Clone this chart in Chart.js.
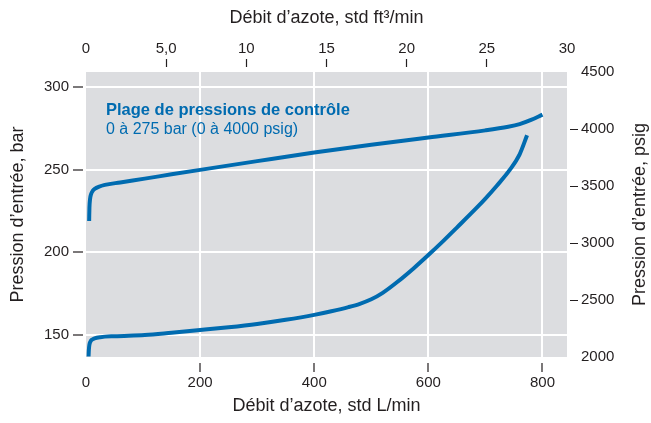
<!DOCTYPE html>
<html>
<head>
<meta charset="utf-8">
<script src="https://cdn.jsdelivr.net/npm/chart.js@4.4.0/dist/chart.umd.min.js"></script>
<style>
  html, body { margin: 0; padding: 0; background: #fff; }
</style>
</head>
<body>
<canvas id="flowChart" width="651" height="423"></canvas>
<script>
// upper curve: flow (std L/min) vs inlet pressure (bar)
const upperFlow = [5.5, 6, 7, 9, 12, 16, 22, 33, 60, 103, 150, 200, 300, 400, 500, 600, 700, 740, 760, 780, 800];
const upperBar  = [219, 227, 232, 235.3, 237.3, 238.6, 239.6, 240.8, 242.3, 244.6, 247.2, 249.9, 255.2, 260.4, 265.1, 269.5, 273.8, 276, 277.6, 280.1, 283.3];

// lower curve
const lowerFlow = [4.5, 5, 6, 8, 11, 15, 25, 50, 103, 150, 200, 250, 300, 350, 400, 430, 460, 480, 500, 520, 546, 575, 600, 625, 650, 684, 700, 720, 743, 760, 773];
const lowerBar  = [137, 141, 144.2, 146.2, 147.3, 148, 148.7, 149.3, 150, 151.4, 153, 154.7, 156.7, 159.2, 162.2, 164.4, 166.9, 168.9, 171.6, 175.5, 182.2, 190.6, 198.4, 206.5, 215, 226.7, 232.5, 240.3, 250, 259.3, 270.8];

const flowTicks = [0, 200, 400, 600, 800];
const cfmTicks = [0, 5, 10, 15, 20, 25, 30];
const barTicks = [150, 200, 250, 300];
const psigTicks = [2000, 2500, 3000, 3500, 4000, 4500];

const BLUE = '#006bb0';
const INK = '#231f20';
const FONT = "'Liberation Sans', Arial, Helvetica, sans-serif";

Chart.defaults.font.family = FONT;
Chart.defaults.color = INK;

function pts(xs, ys) {
  return xs.map((x, i) => ({ x: x, y: ys[i] }));
}

const plotBg = {
  id: 'plotBg',
  beforeDraw(chart) {
    const a = chart.chartArea;
    const c = chart.ctx;
    c.save();
    c.fillStyle = '#dcdde0';
    c.fillRect(a.left, a.top, a.right - a.left, a.bottom - a.top);
    c.restore();
  },
  afterDraw(chart) {
    const a = chart.chartArea;
    const c = chart.ctx;
    const xs = chart.scales.x;
    const ys = chart.scales.y;
    c.save();
    // note in the plot
    c.fillStyle = BLUE;
    c.textAlign = 'left';
    c.textBaseline = 'alphabetic';
    c.font = "bold 16.5px " + FONT;
    c.fillText('Plage de pressions de contrôle', xs.getPixelForValue(35), ys.getPixelForValue(283.3));
    c.font = "16px " + FONT;
    c.fillText('0 à 275 bar (0 à 4000 psig)', xs.getPixelForValue(35), ys.getPixelForValue(271.5));
    // right axis title, reads bottom to top
    c.fillStyle = INK;
    c.font = "18px " + FONT;
    c.textAlign = 'center';
    c.textBaseline = 'middle';
    c.translate(640, (a.top + a.bottom) / 2);
    c.rotate(-Math.PI / 2);
    c.fillText('Pression d’entrée, psig', 0, 0);
    c.restore();
  }
};

function setTicks(list) {
  return (scale) => { scale.ticks = list.map(v => ({ value: v })); };
}

const tickFont = { size: 15 };
const titleFont = { size: 18 };

const ctx = document.getElementById('flowChart').getContext('2d');
new Chart(ctx, {
  type: 'line',
  data: {
    datasets: [
      {
        data: pts(upperFlow, upperBar),
        borderColor: BLUE,
        borderWidth: 4,
        pointRadius: 0,
        fill: false,
        cubicInterpolationMode: 'monotone',
        xAxisID: 'x',
        yAxisID: 'y'
      },
      {
        data: pts(lowerFlow, lowerBar),
        borderColor: BLUE,
        borderWidth: 4,
        pointRadius: 0,
        fill: false,
        cubicInterpolationMode: 'monotone',
        xAxisID: 'x',
        yAxisID: 'y'
      }
    ]
  },
  options: {
    responsive: false,
    devicePixelRatio: 1,
    animation: false,
    layout: { padding: 0 },
    plugins: {
      legend: { display: false },
      tooltip: { enabled: false }
    },
    scales: {
      x: {
        type: 'linear',
        position: 'bottom',
        min: 0,
        max: 843,
        afterBuildTicks: setTicks(flowTicks),
        afterFit: (s) => { s.height = 66; },
        border: { display: false },
        grid: {
          color: (c) => (c.tick && c.tick.value === 0) ? 'rgba(0,0,0,0)' : '#ffffff',
          lineWidth: 2,
          tickLength: 15,
          tickWidth: 1.2,
          tickBorderDash: [0, 6, 9, 40],
          tickColor: (c) => (c.tick && c.tick.value === 0) ? 'rgba(0,0,0,0)' : INK
        },
        ticks: { font: tickFont, padding: 2, autoSkip: false, maxRotation: 0 },
        title: { display: true, text: 'Débit d’azote, std L/min', font: titleFont, padding: { top: 0, bottom: 6 } }
      },
      x2: {
        type: 'linear',
        position: 'top',
        min: 0,
        max: 30,
        afterBuildTicks: setTicks(cfmTicks),
        afterFit: (s) => { s.height = 72; },
        border: { display: false },
        grid: {
          drawOnChartArea: false,
          tickLength: 13,
          tickWidth: 1.2,
          tickBorderDash: [8, 40],
          tickColor: (c) => (c.tick && (c.tick.value === 0 || c.tick.value === 30)) ? 'rgba(0,0,0,0)' : INK
        },
        ticks: {
          font: tickFont, padding: 1, autoSkip: false, maxRotation: 0,
          callback: (v) => v === 5 ? '5,0' : String(v)
        },
        title: { display: true, text: 'Débit d’azote, std ft³/min', font: titleFont, padding: { top: 7, bottom: 0 } }
      },
      y: {
        type: 'linear',
        position: 'left',
        min: 136.7,
        max: 309.1,
        afterBuildTicks: setTicks(barTicks),
        afterFit: (s) => { s.width = 86; },
        border: { display: false },
        grid: {
          color: '#ffffff',
          lineWidth: 2,
          tickLength: 13,
          tickWidth: 1.2,
          tickBorderDash: [10, 40],
          tickColor: INK
        },
        ticks: { font: tickFont, padding: 4, autoSkip: false },
        title: { display: true, text: 'Pression d’entrée, bar', font: titleFont, padding: { top: 7, bottom: 0 } }
      },
      y2: {
        type: 'linear',
        position: 'right',
        min: 2000,
        max: 4500,
        afterBuildTicks: setTicks(psigTicks),
        afterFit: (s) => { s.width = 84; },
        border: { display: false },
        grid: {
          drawOnChartArea: false,
          tickLength: 11,
          tickWidth: 1.2,
          tickBorderDash: [0, 3, 8, 40],
          tickColor: (c) => (c.tick && (c.tick.value === 2000 || c.tick.value === 4500)) ? 'rgba(0,0,0,0)' : INK
        },
        ticks: { font: tickFont, padding: 3, autoSkip: false, callback: (v) => String(v) }
      }
    }
  },
  plugins: [plotBg]
});
</script>
</body>
</html>
